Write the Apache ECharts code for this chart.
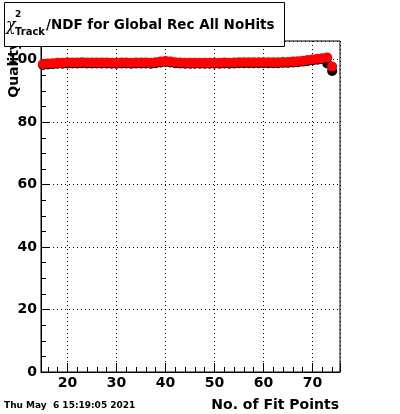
<!DOCTYPE html>
<html><head><meta charset="utf-8">
<script src="https://cdn.jsdelivr.net/npm/echarts@6/dist/echarts.min.js"></script>
<style>html,body{margin:0;padding:0;background:#fff}#c{width:400px;height:414px}</style>
</head><body><div id="c"></div>
<script>
const fitPoints = [15,16,17,18,19,20,21,22,23,24,25,26,27,28,29,30,31,32,33,34,35,36,37,38,39,40,41,42,43,44,45,46,47,48,49,50,51,52,53,54,55,56,57,58,59,60,61,62,63,64,65,66,67,68,69,70,71,72,73,74];
const qualityRed = [98.6,98.8,98.9,99.0,99.0,99.1,99.1,99.1,99.2,99.1,99.1,99.1,99.1,99.1,99.0,99.0,99.1,99.1,99.0,99.1,99.1,99.1,99.0,99.2,99.4,99.6,99.4,99.2,99.1,99.0,99.0,99.0,99.0,99.0,99.0,99.0,99.0,99.1,99.0,99.1,99.2,99.2,99.2,99.2,99.2,99.2,99.2,99.2,99.2,99.3,99.3,99.4,99.5,99.7,99.9,100.1,100.3,100.5,100.7,97.8];
const qualityBlack = [98.3,98.5,98.6,98.7,98.7,98.8,98.8,98.8,98.9,98.8,98.8,98.8,98.8,98.8,98.7,98.7,98.8,98.8,98.7,98.8,98.8,98.8,98.7,98.9,99.1,99.3,99.1,98.9,98.8,98.7,98.7,98.7,98.7,98.7,98.7,98.7,98.7,98.8,98.7,98.8,98.9,98.9,98.9,98.9,98.9,98.9,98.9,98.9,98.9,99.0,99.0,99.1,99.2,99.4,99.6,99.8,100.0,100.2,98.8,96.4];
const xRange = [14.6, 75.6];
const yRange = [0, 106];
const titleMain = '/NDF for Global Rec All NoHits';
const titleChi = 'χ';
const titleSup = '2';
const titleSub = 'Track';
const xTitle = 'No. of Fit Points';
const yTitle = 'Quality';
const dateText = 'Thu May  6 15:19:05 2021';

const FONT = '"DejaVu Sans", sans-serif';
const chart = echarts.init(document.getElementById('c'), null, {renderer: 'canvas'});
const pairs = (ys) => fitPoints.map((x, i) => [x, ys[i]]);

const tickLabel = {color: '#000', fontFamily: FONT, fontWeight: 'bold', fontSize: 14};
chart.setOption({
  animation: false,
  backgroundColor: '#fff',
  grid: {left: 41, top: 41, width: 299, height: 331, show: true, borderColor: '#000', borderWidth: 1, backgroundColor: 'transparent'},
  xAxis: {
    type: 'value', min: xRange[0], max: xRange[1], splitNumber: 6,
    axisLine: {show: true, lineStyle: {color: '#000', width: 1}},
    axisTick: {show: true, inside: true, length: 9, lineStyle: {color: '#000'}},
    minorTick: {show: true, splitNumber: 5, length: 5, lineStyle: {color: '#000'}},
    splitLine: {show: true, lineStyle: {color: '#000', type: [1, 3], width: 1}},
    axisLabel: Object.assign({margin: 4, showMinLabel: false, showMaxLabel: false}, tickLabel)
  },
  yAxis: {
    type: 'value', min: yRange[0], max: yRange[1], splitNumber: 5,
    axisLine: {show: true, lineStyle: {color: '#000', width: 1}},
    axisTick: {show: true, inside: true, length: 9, lineStyle: {color: '#000'}},
    minorTick: {show: true, splitNumber: 4, length: 5, lineStyle: {color: '#000'}},
    splitLine: {show: true, lineStyle: {color: '#000', type: [1, 3], width: 1}},
    axisLabel: Object.assign({margin: 4, showMinLabel: true, showMaxLabel: false, padding: [4, 0, 0, 0]}, tickLabel)
  },
  series: [
    {type: 'scatter', data: pairs(qualityBlack), symbol: 'circle', symbolSize: 10, itemStyle: {color: '#000', opacity: 1}, z: 3},
    {type: 'scatter', data: pairs(qualityRed), symbol: 'circle', symbolSize: 10, itemStyle: {color: '#ff0000', opacity: 1}, z: 4}
  ],
  graphic: [
    {type: 'text', x: 14, y: 41, rotation: Math.PI / 2, z: 50,
     style: {text: yTitle, align: 'right', verticalAlign: 'middle', fill: '#000', font: 'bold 14px ' + FONT}},
    {type: 'rect', shape: {x: 4.5, y: 2.5, width: 280, height: 44}, z: 100,
     style: {fill: '#fff', stroke: '#000', lineWidth: 1}},
    {type: 'text', x: 6, y: 26, z: 101,
     style: {text: titleChi, align: 'left', verticalAlign: 'middle', fill: '#000', font: 'italic 16px "DejaVu Serif", serif'}},
    {type: 'text', x: 15, y: 15, z: 101,
     style: {text: titleSup, align: 'left', verticalAlign: 'middle', fill: '#000', font: 'bold 9px ' + FONT}},
    {type: 'text', x: 15, y: 32, z: 101,
     style: {text: titleSub, align: 'left', verticalAlign: 'middle', fill: '#000', font: 'bold 10px ' + FONT}},
    {type: 'text', x: 46, y: 25, z: 101,
     style: {text: titleMain, align: 'left', verticalAlign: 'middle', fill: '#000', font: 'bold 13.5px ' + FONT}},
    {type: 'text', x: 339, y: 405, z: 101,
     style: {text: xTitle, align: 'right', verticalAlign: 'middle', fill: '#000', font: 'bold 14px ' + FONT}},
    {type: 'text', x: 4, y: 406, z: 101,
     style: {text: dateText, align: 'left', verticalAlign: 'middle', fill: '#000', font: 'bold 9px ' + FONT}}
  ]
});
</script>
</body></html>
